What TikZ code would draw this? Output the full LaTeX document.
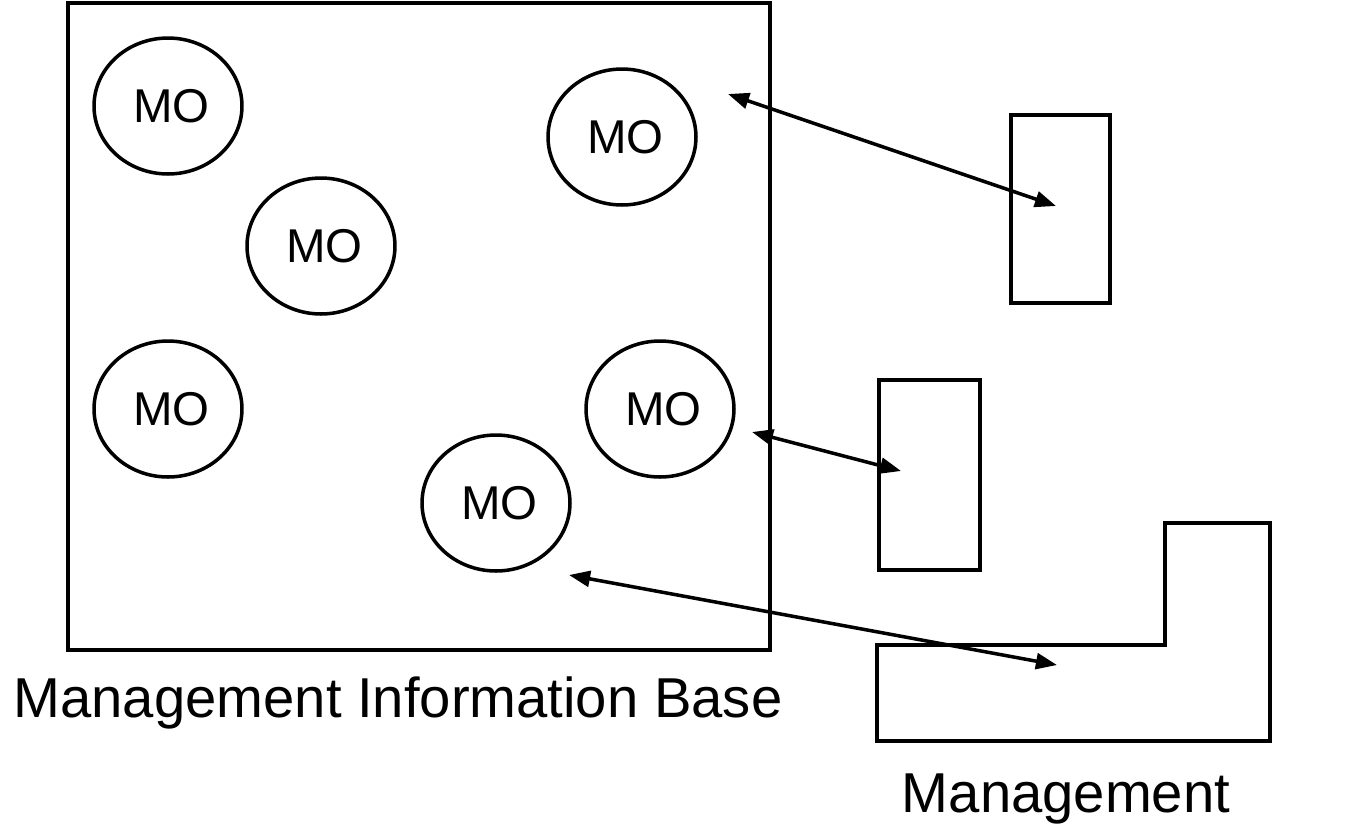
\documentclass[tikz,border=0pt]{standalone}
\usepackage{fontspec}
\setmainfont{Liberation Sans}
\usetikzlibrary{shapes.geometric, arrows.meta, positioning}

\begin{document}
\begin{tikzpicture}[
        x=0.02cm, y=-0.02cm,
        >={Triangle[length=12pt, width=9pt]},
        mo/.style={ellipse, draw, line width=2pt, minimum width=2.96cm, minimum height=2.72cm, inner sep=0pt, font=\fontsize{27}{30}\selectfont},
        box/.style={rectangle, draw, line width=2pt, inner sep=0pt},
        caption/.style={anchor=base, font=\fontsize{32}{36}\selectfont},
        line/.style={draw, <->, line width=2pt}
    ]
        \useasboundingbox (0,0) rectangle (1348,833);

        % Management Information Base
        \node [box, minimum width=14.04cm, minimum height=12.94cm] (mib) at (419,326.5) {};
        \node [caption] (mib_text) at (398,717) {Management Information Base};

        % Managed Objects
        \node [mo] (mo_a) at (168,106) {\hspace{4pt}MO};
        \node [mo] (mo_b) at (622,137) {\hspace{4pt}MO};
        \node [mo] (mo_c) at (321,246) {\hspace{4pt}MO};
        \node [mo] (mo_d) at (168,409) {\hspace{4pt}MO};
        \node [mo] (mo_e) at (660,409) {\hspace{4pt}MO};
        \node [mo] (mo_f) at (496,503) {\hspace{4pt}MO};

        % Management
        \node [box, minimum width=1.98cm, minimum height=3.76cm] (mgr_a) at (1060.5,209) {};
        \node [box, minimum width=2.02cm, minimum height=3.80cm] (mgr_b) at (929.5,475) {};
        \draw [line width=2pt] (877,645) -- (1165,645) -- (1165,523) -- (1270,523) -- (1270,741) -- (877,741) -- cycle;
        \node [caption] (mgr_text) at (1066,812) {Management};

        % Arrow ends
        \coordinate (end_b) at (728,94);
        \coordinate (end_a) at (1056,206);
        \coordinate (end_e) at (752,432);
        \coordinate (end_m) at (901,471);
        \coordinate (end_f) at (569,575);
        \coordinate (end_l) at (1057,665);

        % Paths
        \path [line] (end_b) -- (end_a);
        \path [line] (end_e) -- (end_m);
        \path [line] (end_f) -- (end_l);
    \end{tikzpicture}
\end{document}
